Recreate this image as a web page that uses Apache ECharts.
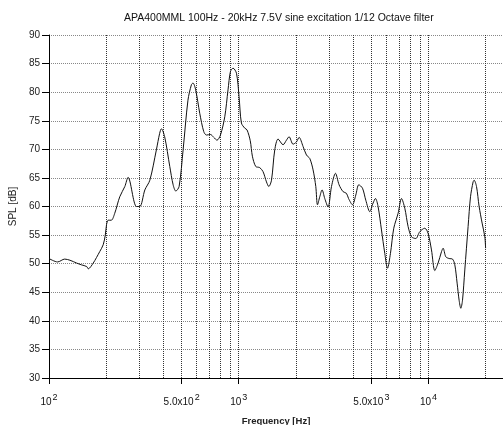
<!DOCTYPE html>
<html>
<head>
<meta charset="utf-8">
<script src="https://cdn.jsdelivr.net/npm/echarts@6/dist/echarts.min.js"></script>
<style>html,body{margin:0;padding:0;background:#fff}#c{width:503px;height:425px}</style>
</head>
<body>
<div id="c"></div>
<script>
const titleText = 'APA400MML 100Hz - 20kHz 7.5V sine excitation 1/12 Octave filter';
const freq = [100,111,121,129,140,148,158,161,171,185,193,198,201,205,213,222,236,251,261,289,301,320,340,368,383,391,407,433,451,466,485,509,540,563,574,593,623,654,676,709,738,768,801,844,878,904,933,973,1004,1033,1076,1106,1150,1180,1229,1290,1343,1400,1440,1488,1548,1612,1712,1784,1842,1933,2015,2080,2183,2275,2368,2465,2547,2600,2673,2749,2840,2957,3082,3235,3379,3546,3696,3790,3976,4139,4292,4489,4673,4904,5105,5255,5424,5652,5884,6080,6304,6562,6915,7208,7502,7808,8137,8573,8999,9561,9951,10370,10795,11236,11710,11940,12340,12843,13384,13764,14153,14501,14803,15111,15537,16173,16652,17185,17394,17910,18484,19170,19810,20000];
const spl = [50.9,50.3,50.8,50.6,50.1,49.8,49.5,49.1,50.1,52.1,53.3,55.0,56.8,57.6,57.6,58.8,61.7,63.5,65.1,60.0,60.0,62.9,64.6,69.9,72.8,73.6,72.2,67.0,63.8,62.7,63.5,69.9,78.6,81.3,81.6,80.4,76.3,73.1,72.5,72.6,72.1,71.6,72.5,75.7,80.4,83.6,84.2,83.3,79.2,74.6,73.7,73.4,71.5,68.8,67.0,66.8,66.1,64.3,63.5,64.6,69.9,71.8,70.8,71.6,72.2,70.9,71.3,72.1,70.5,69.0,68.4,66.4,63.5,60.3,61.7,62.9,61.4,59.9,63.5,65.8,63.8,62.6,62.3,61.4,60.3,62.0,63.8,63.2,61.1,59.1,60.6,61.4,60.0,55.9,51.8,49.2,51.8,56.2,58.8,61.4,59.7,56.5,54.7,54.4,55.6,56.2,55.3,52.4,48.8,50.1,52.1,52.7,51.2,50.9,50.8,49.8,46.6,43.6,42.2,43.6,48.9,56.5,61.7,64.3,64.6,63.5,60.0,57.1,54.7,52.7];
const labelTicks = [100,500,1000,5000,10000];
const labelMant = {100:'10',500:'5.0x10',1000:'10',5000:'5.0x10',10000:'10'};
const labelExp = {100:'2',500:'2',1000:'3',5000:'3',10000:'4'};
const gridFreqs = [200,300,400,500,600,700,800,900,1000,2000,3000,4000,5000,6000,7000,8000,9000,10000,20000];
const yMin = 30, yMax = 90, yStep = 5;
const xMin = 100, xMax = 24700;

const data = freq.map((f, i) => [f, spl[i]]);
const gridLineValues = [xMin].concat(gridFreqs);
const FONT = 'Liberation Sans';
const gridStyle = {color: '#333', width: 1, type: [1, 1]};
const chart = echarts.init(document.getElementById('c'), null, {renderer: 'canvas'});
chart.setOption({
  animation: false,
  backgroundColor: '#fff',
  textStyle: {fontFamily: FONT},
  title: {
    text: titleText, left: 119, top: 8,
    textStyle: {fontSize: 10.5, fontWeight: 'normal', color: '#111', fontFamily: FONT}
  },
  grid: {left: 49, right: 0, top: 35, bottom: 47, containLabel: false, outerBoundsMode: 'none'},
  xAxis: [{
    type: 'log', logBase: 10, min: xMin, max: xMax,
    name: 'Frequency [Hz]', nameLocation: 'middle', nameGap: 38,
    nameTextStyle: {fontSize: 9.5, fontWeight: 'bold', color: '#222', fontFamily: FONT},
    axisLine: {show: true, lineStyle: {color: '#000', width: 1}},
    axisTick: {show: true, inside: false, length: 6, customValues: labelTicks, lineStyle: {color: '#000'}},
    axisLabel: {
      customValues: labelTicks, margin: 15, color: '#111',
      formatter: v => '{b|' + labelMant[Math.round(v)] + '}{s|' + labelExp[Math.round(v)] + '}',
      rich: {
        b: {fontSize: 10, fontFamily: FONT, color: '#111'},
        s: {fontSize: 9, fontFamily: FONT, color: '#111', padding: [0, 0, 10, 1]}
      }
    },
    splitLine: {show: false}
  }, {
    type: 'log', logBase: 10, min: xMin, max: xMax, position: 'bottom',
    axisLine: {show: false},
    axisTick: {show: false, customValues: gridLineValues},
    axisLabel: {show: false},
    splitLine: {show: true, showMinLine: false, showMaxLine: true, lineStyle: gridStyle}
  }],
  yAxis: {
    type: 'value', min: yMin, max: yMax, interval: yStep,
    name: 'SPL [dB]', nameLocation: 'middle', nameGap: 29, nameRotate: 90,
    nameTextStyle: {fontSize: 10, color: '#222', fontFamily: FONT},
    axisLine: {show: true, lineStyle: {color: '#000', width: 1}},
    axisTick: {show: true, inside: false, length: 7, lineStyle: {color: '#000'}},
    axisLabel: {fontSize: 10, color: '#222', margin: 9, fontFamily: FONT},
    splitLine: {show: true, lineStyle: {color: '#888', width: 1, type: [1, 1]}}
  },
  series: [{
    type: 'line', xAxisIndex: 0, data: data, showSymbol: false, smooth: 0.3, z: 3,
    lineStyle: {color: '#111', width: 1}, silent: true
  }]
});
</script>
</body>
</html>
